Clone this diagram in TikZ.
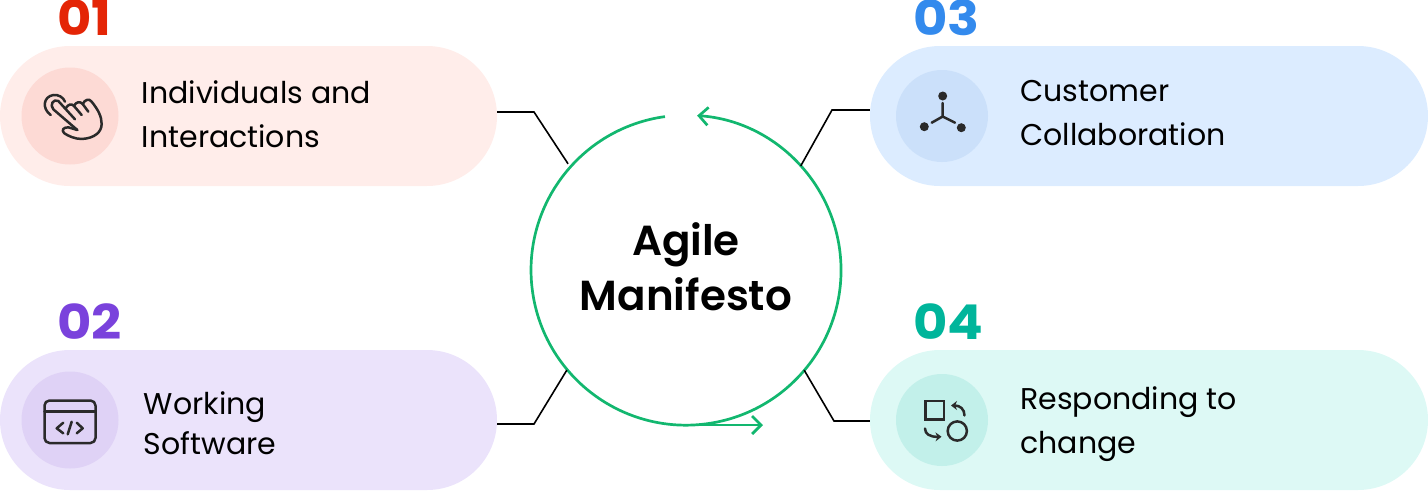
\documentclass[tikz,border=0pt]{standalone}
\usepackage{fontspec}
\usetikzlibrary{arrows.meta,positioning}
\setmainfont{Poppins}
\newfontfamily\numfont[FakeStretch=1.1]{Poppins}
\newfontfamily\hubfont{Poppins SemiBold}
\definecolor{redpill}{HTML}{FFEDEA}
\definecolor{redicon}{HTML}{FDDAD5}
\definecolor{rednum}{HTML}{E42506}
\definecolor{violetpill}{HTML}{EBE3FB}
\definecolor{violeticon}{HTML}{DFD2F6}
\definecolor{violetnum}{HTML}{7A42DC}
\definecolor{bluepill}{HTML}{DCECFF}
\definecolor{blueicon}{HTML}{CBE0FA}
\definecolor{bluenum}{HTML}{338AED}
\definecolor{tealpill}{HTML}{DDF9F5}
\definecolor{tealicon}{HTML}{C2F0EA}
\definecolor{tealnum}{HTML}{00B59B}
\definecolor{ringgreen}{HTML}{12B76F}
\definecolor{inkdark}{HTML}{2A2A2A}
\tikzset{
	pill/.style={rounded corners=70pt, minimum height=140pt, inner sep=0pt},
	iconbg/.style={circle, inner sep=0pt, minimum size=#1},
	numlabel/.style={anchor=base west, inner sep=0pt, font=\numfont\bfseries\fontsize{48}{48}\selectfont},
	pointlabel/.style={align=left, inner sep=0pt, text=black, font=\fontsize{30}{44}\selectfont},
	link/.style={line width=1.6pt, black},
	ring/.style={line width=2.7pt, ringgreen},
	ringtip/.style={-{Straight Barb[length=9pt,width=18pt,line width=2.7pt]}},
	glyph/.style={line width=2.5pt, inkdark, line cap=round, line join=round},
	tipped/.style={-{Stealth[length=6pt,width=9pt]}}
}
\begin{document}
\begin{tikzpicture}[x=1pt,y=-1pt]
	\useasboundingbox (0,0) rectangle (1428,491);
	
	% pills
	\node[pill, fill=redpill, minimum width=497pt] (Individuals) at (248.5,116) {};
	\node[pill, fill=violetpill, minimum width=497pt] (Working) at (248.5,420) {};
	\node[pill, fill=bluepill, minimum width=558pt] (Customer) at (1149,116) {};
	\node[pill, fill=tealpill, minimum width=558pt] (Responding) at (1149,420) {};
	
	% icon discs
	\node[iconbg=97pt, fill=redicon] (IconA) at (70,116) {};
	\node[iconbg=97pt, fill=violeticon] (IconB) at (70,420) {};
	\node[iconbg=92pt, fill=blueicon] (IconC) at (942,116) {};
	\node[iconbg=92pt, fill=tealicon] (IconD) at (942,420) {};
	
	% numbers
	\node[numlabel, text=rednum] (NumA) at (57,35) {01};
	\node[numlabel, text=violetnum] (NumB) at (57,339) {02};
	\node[numlabel, text=bluenum] (NumC) at (913,35) {03};
	\node[numlabel, text=tealnum] (NumD) at (913,339) {04};
	
	% texts
	\node[pointlabel, right=23pt of IconA, yshift=2pt] (TextA) {Individuals and\\Interactions};
	\node[pointlabel, right=25pt of IconB, yshift=-3pt] (TextB) {Working\\[-4pt]Software};
	\node[pointlabel, right=32pt of IconC, yshift=3pt] (TextC) {Customer\\Collaboration};
	\node[pointlabel, right=32pt of IconD, yshift=-4pt] (TextD) {Responding to\\change};
	
	% centre
	\node[circle, minimum size=317pt, inner sep=0pt] (Hub) at (686,270) {};
	\node[align=center, inner sep=0pt, text=black, font=\hubfont\fontsize{42}{55}\selectfont]
		(HubLabel) at ([yshift=3.5pt]Hub.center) {Agile\\Manifesto};
	\coordinate (RingEnd) at (763,425);
	\coordinate (RingStart) at (672,425);
	\draw[ring, ringtip] (665,116.6) arc[start angle=262.2, end angle=-85.9, radius=155];
	\draw[ring, ringtip] (RingStart) -- (RingEnd);
	
	% connectors
	\coordinate (BendA) at (534,112);
	\coordinate (BendB) at (534,424);
	\coordinate (BendC) at (832,110);
	\coordinate (BendD) at (834,421);
	\draw[link] (Individuals.east |- BendA) -- (BendA) -- (Hub.138.6);
	\draw[link] (Working.east |- BendB) -- (BendB) -- ([shift={(2.4,-1.9)}]Hub.220);
	\draw[link] (Customer.west |- BendC) -- (BendC) -- ([shift={(-5,0)}]Hub.41.4);
	\draw[link] (Responding.west |- BendD) -- (BendD) -- ([shift={(-3.4,-1.9)}]Hub.320);
	
	% hand
	\begin{scope}[x=0.3333pt,y=-0.3333pt]
		\draw[glyph] (152,345) .. controls (125,325) and (130,290) .. (160,285) .. controls (175,283) and (190,292) .. (195,305);
		\draw[glyph] (232,390) -- (160,328) .. controls (148,315) and (160,295) .. (175,303) -- (225,358);
		\draw[glyph] (197,325) .. controls (205,312) and (215,310) .. (222,318) -- (245,345);
		\draw[glyph] (222,318) .. controls (228,305) and (240,303) .. (248,312) -- (265,335);
		\draw[glyph] (248,312) .. controls (255,298) and (268,295) .. (275,305) .. controls (295,330) and (305,350) .. (305,372)
			.. controls (305,395) and (285,415) .. (245,417) .. controls (225,417) and (205,408) .. (193,400)
			.. controls (183,390) and (190,382) .. (205,382) -- (232,390);
	\end{scope}
	
	% code window
	\draw[glyph, rounded corners=5pt] (44.5,400.5) rectangle (95.5,443);
	\draw[glyph] (44.5,411.7) -- (95.5,411.7);
	\draw[glyph] (63.3,422.7) -- (56.7,428.3) -- (63.3,433.3) (76.7,422.7) -- (82.7,428.3) -- (76.7,433.3) (71.7,421.7) -- (67.7,434.3);
	
	% three dots
	\fill[inkdark] (942.7,96) circle (4.5pt) (924.3,126.7) circle (4.5pt) (961.3,127.7) circle (4.5pt);
	\draw[glyph] (942.7,103) -- (942.7,116.5) -- (931.7,122.7) (942.7,116.5) -- (955,122.7);
	
	% shapes and arrows
	\draw[glyph, line cap=butt, line join=miter] (925.5,401) rectangle (944,419.5);
	\draw[glyph] (957.3,431) circle (9.6pt);
	\draw[glyph, tipped] (964.5,415.5) .. controls (964.5,409) and (960,405.5) .. (951,405.5);
	\draw[glyph, tipped] (925,428.5) .. controls (925,434) and (930,437) .. (941.5,436.7);
\end{tikzpicture}
\end{document}
